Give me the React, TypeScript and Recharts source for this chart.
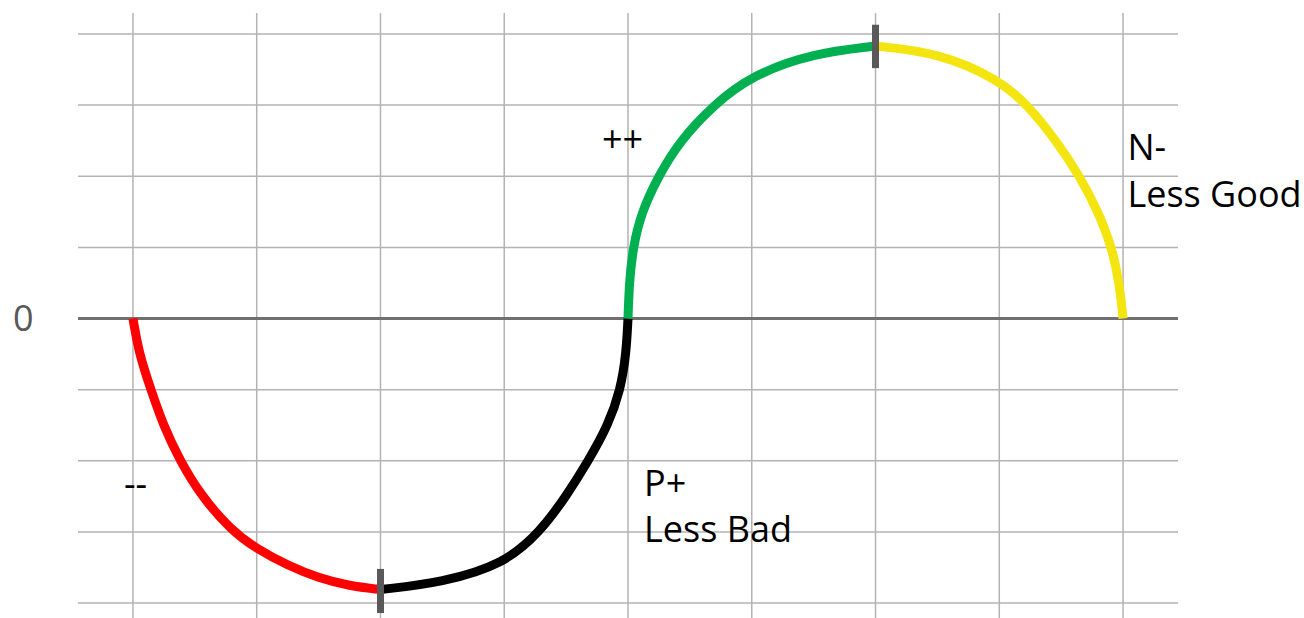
import { LineChart, Line, XAxis, YAxis, ReferenceLine, ReferenceDot } from "recharts";

type Pt = { x: number; y: number };

// curve segments (x in grid columns, y in grid rows)
const redCurve: Pt[] = [
  { x: 0, y: 0 }, { x: 0.05, y: -0.5 }, { x: 0.145, y: -1 }, { x: 0.245, y: -1.5 },
  { x: 0.38, y: -2 }, { x: 0.555, y: -2.5 }, { x: 0.79, y: -2.97 }, { x: 1, y: -3.24 },
  { x: 1.25, y: -3.47 }, { x: 1.5, y: -3.65 }, { x: 1.75, y: -3.76 }, { x: 2, y: -3.81 },
];
const blackCurve: Pt[] = [
  { x: 2, y: -3.81 }, { x: 2.5, y: -3.71 }, { x: 3, y: -3.45 }, { x: 3.29, y: -3 },
  { x: 3.5, y: -2.5 }, { x: 3.68, y: -2 }, { x: 3.84, y: -1.5 }, { x: 3.94, y: -1 },
  { x: 3.985, y: -0.5 }, { x: 4, y: 0 },
];
const greenCurve: Pt[] = [
  { x: 4, y: 0 }, { x: 4.01, y: 0.5 }, { x: 4.04, y: 1 }, { x: 4.11, y: 1.5 },
  { x: 4.245, y: 2 }, { x: 4.42, y: 2.5 }, { x: 4.69, y: 3 }, { x: 5, y: 3.42 },
  { x: 5.5, y: 3.73 }, { x: 6, y: 3.83 },
];
const yellowCurve: Pt[] = [
  { x: 6, y: 3.83 }, { x: 6.5, y: 3.74 }, { x: 7, y: 3.36 }, { x: 7.23, y: 3 },
  { x: 7.46, y: 2.5 }, { x: 7.65, y: 2 }, { x: 7.8, y: 1.5 }, { x: 7.91, y: 1 },
  { x: 7.97, y: 0.5 }, { x: 8, y: 0 },
];

const columns = [0, 1, 2, 3, 4, 5, 6, 7, 8];
const rows = [-4, -3, -2, -1, 1, 2, 3, 4];

// short gray bars marking the turning points
const markers = [
  { x: 2, y1: -3.52, y2: -4.14 },
  { x: 6, y1: 3.52, y2: 4.13 },
];

const notes = [
  { text: "0", x: -0.97, y: -0.176, color: "#595959" },
  { text: "--", x: -0.073, y: -2.51, color: "#000" },
  { text: "++", x: 3.79, y: 2.34, color: "#000" },
  { text: "P+", x: 4.13, y: -2.5, color: "#000" },
  { text: "Less Bad", x: 4.13, y: -3.14, color: "#000" },
  { text: "N-", x: 8.035, y: 2.23, color: "#000" },
  { text: "Less Good", x: 8.035, y: 1.57, color: "#000" },
];

const series = [
  { key: "red", data: redCurve, color: "#FF0000" },
  { key: "black", data: blackCurve, color: "#000000" },
  { key: "green", data: greenCurve, color: "#00B050" },
  { key: "yellow", data: yellowCurve, color: "#F4E511" },
];

export default function App() {
  return (
    <div style={{ position: "absolute", left: 0, top: 0, background: "#fff" }}>
      <LineChart width={1304} height={618} margin={{ top: 13, right: 126, left: 78, bottom: 0 }}>
        <XAxis type="number" dataKey="x" domain={[-0.444, 8.444]} hide allowDataOverflow />
        <YAxis type="number" dataKey="y" domain={[-4.21, 4.295]} hide allowDataOverflow />
        {columns.map((c) => (
          <ReferenceLine key={`c${c}`} x={c} stroke="#b3b3b3" strokeWidth={1.5} />
        ))}
        {rows.map((r) => (
          <ReferenceLine key={`r${r}`} y={r} stroke="#b3b3b3" strokeWidth={1.5} />
        ))}
        <ReferenceLine y={0} stroke="#707070" strokeWidth={3} />
        {series.map((s) => (
          <Line
            key={s.key}
            data={s.data}
            dataKey="y"
            type="basis"
            stroke={s.color}
            strokeWidth={9}
            dot={false}
            activeDot={false}
            isAnimationActive={false}
          />
        ))}
        {markers.map((m) => (
          <ReferenceLine
            key={`m${m.x}`}
            segment={[{ x: m.x, y: m.y1 }, { x: m.x, y: m.y2 }]}
            stroke="#595959"
            strokeWidth={7}
          />
        ))}
        {notes.map((n) => (
          <ReferenceDot
            key={n.text}
            x={n.x}
            y={n.y}
            r={0}
            ifOverflow="visible"
            shape={(p: any) => (
              <text x={p.cx} y={p.cy} fill={n.color} fontSize={36} fontFamily="Open Sans, sans-serif">
                {n.text}
              </text>
            )}
          />
        ))}
      </LineChart>
    </div>
  );
}
